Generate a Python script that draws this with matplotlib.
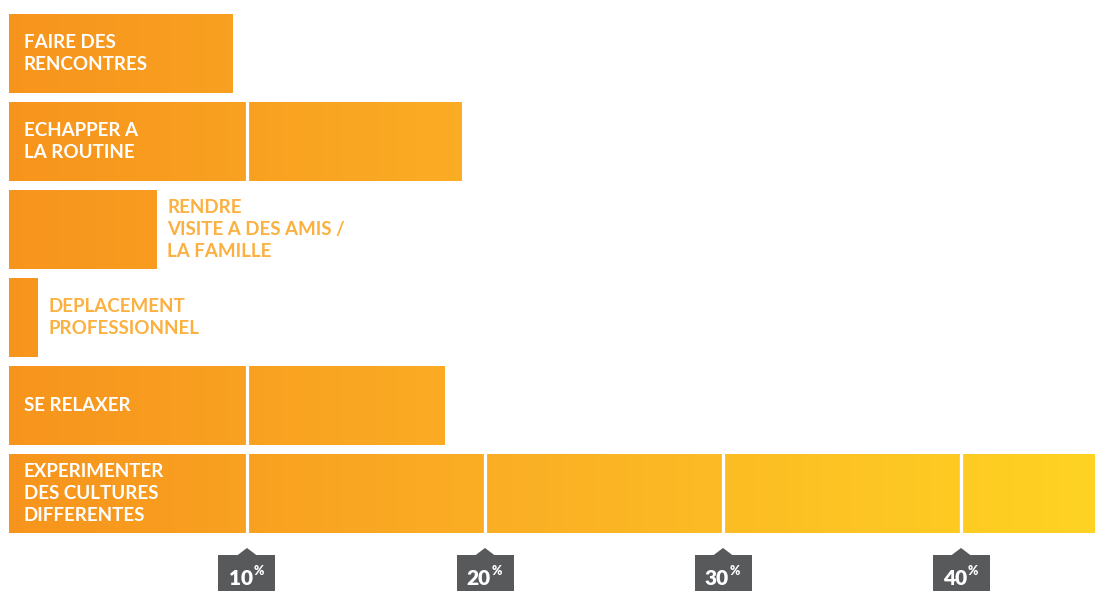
import numpy as np
import matplotlib
matplotlib.use("Agg")
import matplotlib.pyplot as plt
from matplotlib.colors import LinearSegmentedColormap, Normalize
from matplotlib.patches import Polygon, Rectangle

plt.rcParams['font.family'] = ['Lato', 'DejaVu Sans']

categories = [
    "FAIRE DES\nRENCONTRES",
    "ECHAPPER A\nLA ROUTINE",
    "RENDRE\nVISITE A DES AMIS /\nLA FAMILLE",
    "DEPLACEMENT\nPROFESSIONNEL",
    "SE RELAXER",
    "EXPERIMENTER\nDES CULTURES\nDIFFERENTES",
]
values = [9.4, 19.0, 6.2, 1.2, 18.3, 46.0]
ticks = [10, 20, 30, 40]

X_MIN, X_MAX = -0.378, 45.63
ORANGE = "#F7941D"
YELLOW = "#FFD322"
TEXT_OUT = "#FBB040"
TICK_BOX = "#58595B"

cmap = LinearSegmentedColormap.from_list("grad", [ORANGE, "#FBB125", YELLOW])
norm = Normalize(X_MIN, X_MAX)

fig = plt.figure(figsize=(10.95, 5.91), dpi=100)
ax = fig.add_axes([0, 0, 1, 1])
ax.set_xlim(X_MIN, X_MAX)
ax.set_ylim(6.108, -0.608)
ax.axis("off")

y = np.arange(len(categories))
h = 0.9
bars = ax.barh(y, values, height=h, color=ORANGE, linewidth=0, zorder=1)

# horizontal gradient clipped to each bar
for bar, v, yi in zip(bars, values, y):
    xs = np.linspace(0, v, 400)
    im = ax.imshow(xs[np.newaxis, :], cmap=cmap, norm=norm, aspect="auto",
                   extent=[0, v, yi + h / 2, yi - h / 2], zorder=2,
                   interpolation="bilinear")
    im.set_clip_path(bar)

# white separators at each tick
for t in ticks:
    ax.vlines(t, -0.5, len(categories) - 0.5 - (1 - h) / 2, color="white",
              linewidth=2.3, zorder=3)

# category labels
for v, yi, lab in zip(values, y, categories):
    if v > 8:
        ax.text(0.63, yi, lab, color="white", fontsize=13.5, fontweight="bold",
                va="center", ha="left", linespacing=1.34, zorder=4)
    else:
        ax.text(v + 0.44, yi, lab, color=TEXT_OUT, fontsize=13.5, fontweight="bold",
                va="center", ha="left", linespacing=1.34, zorder=4)

# tick markers: dark box with small pointer
bw = 57 / 23.8
for t in ticks:
    ax.add_patch(Rectangle((t - bw / 2, 5.699), bw, 0.5, color=TICK_BOX,
                           linewidth=0, zorder=5, clip_on=False))
    ax.add_patch(Polygon([(t - 0.42, 5.705), (t, 5.619), (t + 0.42, 5.705)],
                         closed=True, color=TICK_BOX, linewidth=0, zorder=5))
    ax.text(t + 0.25, 5.965, f"{t}", color="white", fontsize=15, fontweight="heavy",
            ha="right", va="center", zorder=6)
    ax.text(t + 0.27, 5.885, "%", color="white", fontsize=9, fontweight="heavy",
            ha="left", va="center", zorder=6)

fig.savefig("out.png", dpi=100)
